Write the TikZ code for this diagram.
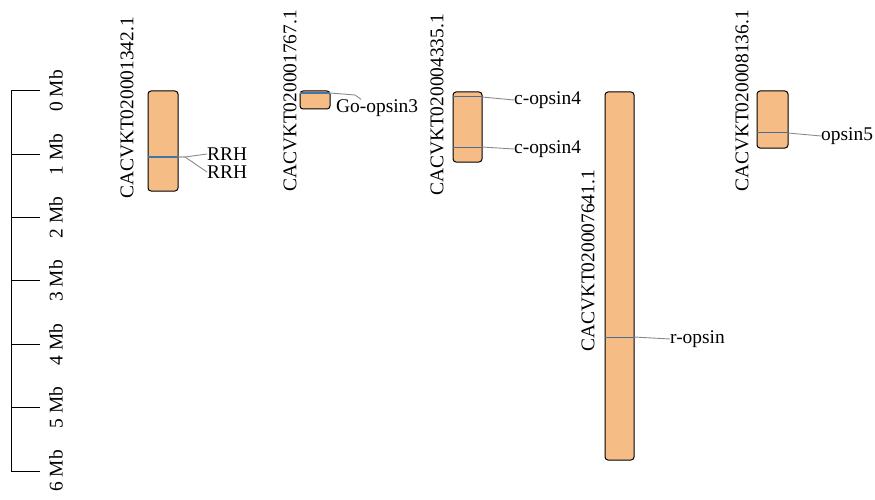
\documentclass[tikz,border=0pt]{standalone}
\usepackage{fontspec}
\setmainfont{Liberation Serif}
\begin{document}
\begin{tikzpicture}[x=1pt,y=-1pt,
  txt/.style={font=\fontsize{19.4}{23}\selectfont, inner sep=0pt},
  chrlabel/.style={txt, rotate=90, anchor=west},
  chrom/.style={draw=black, line width=1pt, fill=chrfill, rounded corners=3pt},
  genemark/.style={draw=genethin, line width=1pt},
  genemarkbold/.style={draw=genebold, line width=2pt},
  leader/.style={draw=leadergray, line width=0.9pt},
  genelabel/.style={txt, anchor=west},
  axis/.style={draw=black, line width=1pt}
]
\definecolor{chrfill}{HTML}{F5BC85}
\definecolor{genebold}{HTML}{3E76A8}
\definecolor{genethin}{HTML}{4A6F93}
\definecolor{leadergray}{HTML}{8A8A8A}
\useasboundingbox (0,0) rectangle (875,500);

% scale bar, 0--6 Mb
\draw[axis] (40,91) -- (11,91) -- (11,471) -- (40,471);
\foreach \i in {1,...,5} \draw[axis] (11,91+63.33*\i) -- (40,91+63.33*\i);
\foreach \i in {0,...,6}
  \node[txt, rotate=90] (mb\i) at (56,91+63.33*\i) {\i\ Mb};

% chromosome 1
\node[chrlabel] (l1) at (127,199) {CACVKT020001342.1};
\path[chrom] (148,91) rectangle (178,191);
\draw[genemarkbold] (148,157) -- (178,157);
\coordinate (g1) at (178,157);
\coordinate (g1b) at (185,157);
\node[genelabel] (rrh1) at (207,154) {RRH};
\node[genelabel] (rrh2) at (207,172) {RRH};
\draw[leader] (g1) -- (g1b) -- (rrh1.west);
\draw[leader] (g1) -- (g1b) -- (rrh2.west);

% chromosome 2
\node[chrlabel] (l2) at (290,192) {CACVKT020001767.1};
\path[chrom] (300,91) rectangle (330,109);
\draw[genemarkbold] (300,93) -- (330,93);
\coordinate (g2) at (330,93);
\node[genelabel] (go3) at (336,108) {Go-opsin3};
\coordinate (g2b) at (355,95);
\draw[leader] (g2) -- (g2b) -- (go3.north -| 361,0);

% chromosome 3
\node[chrlabel] (l3) at (437,196) {CACVKT020004335.1};
\path[chrom] (453,92) rectangle (482,162);
\draw[genemark] (453,97) -- (482,97);
\draw[genemark] (453,147) -- (482,147);
\coordinate (g3a) at (482,97);
\coordinate (g3b) at (482,147);
\node[genelabel] (c4a) at (514,100) {c-opsin4};
\node[genelabel] (c4b) at (514,149) {c-opsin4};
\draw[leader] (g3a) -- (c4a.west);
\draw[leader] (g3b) -- (c4b.west);

% chromosome 4
\node[chrlabel] (l4) at (588,352) {CACVKT020007641.1};
\path[chrom] (605,92) rectangle (634,460);
\draw[genemark] (605,337) -- (634,337);
\coordinate (g4) at (634,337);
\node[genelabel] (ro) at (670,339) {r-opsin};
\draw[leader] (g4) -- (ro.west);

% chromosome 5
\node[chrlabel] (l5) at (742,192) {CACVKT020008136.1};
\path[chrom] (757,91) rectangle (788,148);
\draw[genemark] (757,133) -- (788,133);
\coordinate (g5) at (788,133);
\node[genelabel] (o5) at (821,136) {opsin5};
\draw[leader] (g5) -- (o5.west);
\end{tikzpicture}
\end{document}
